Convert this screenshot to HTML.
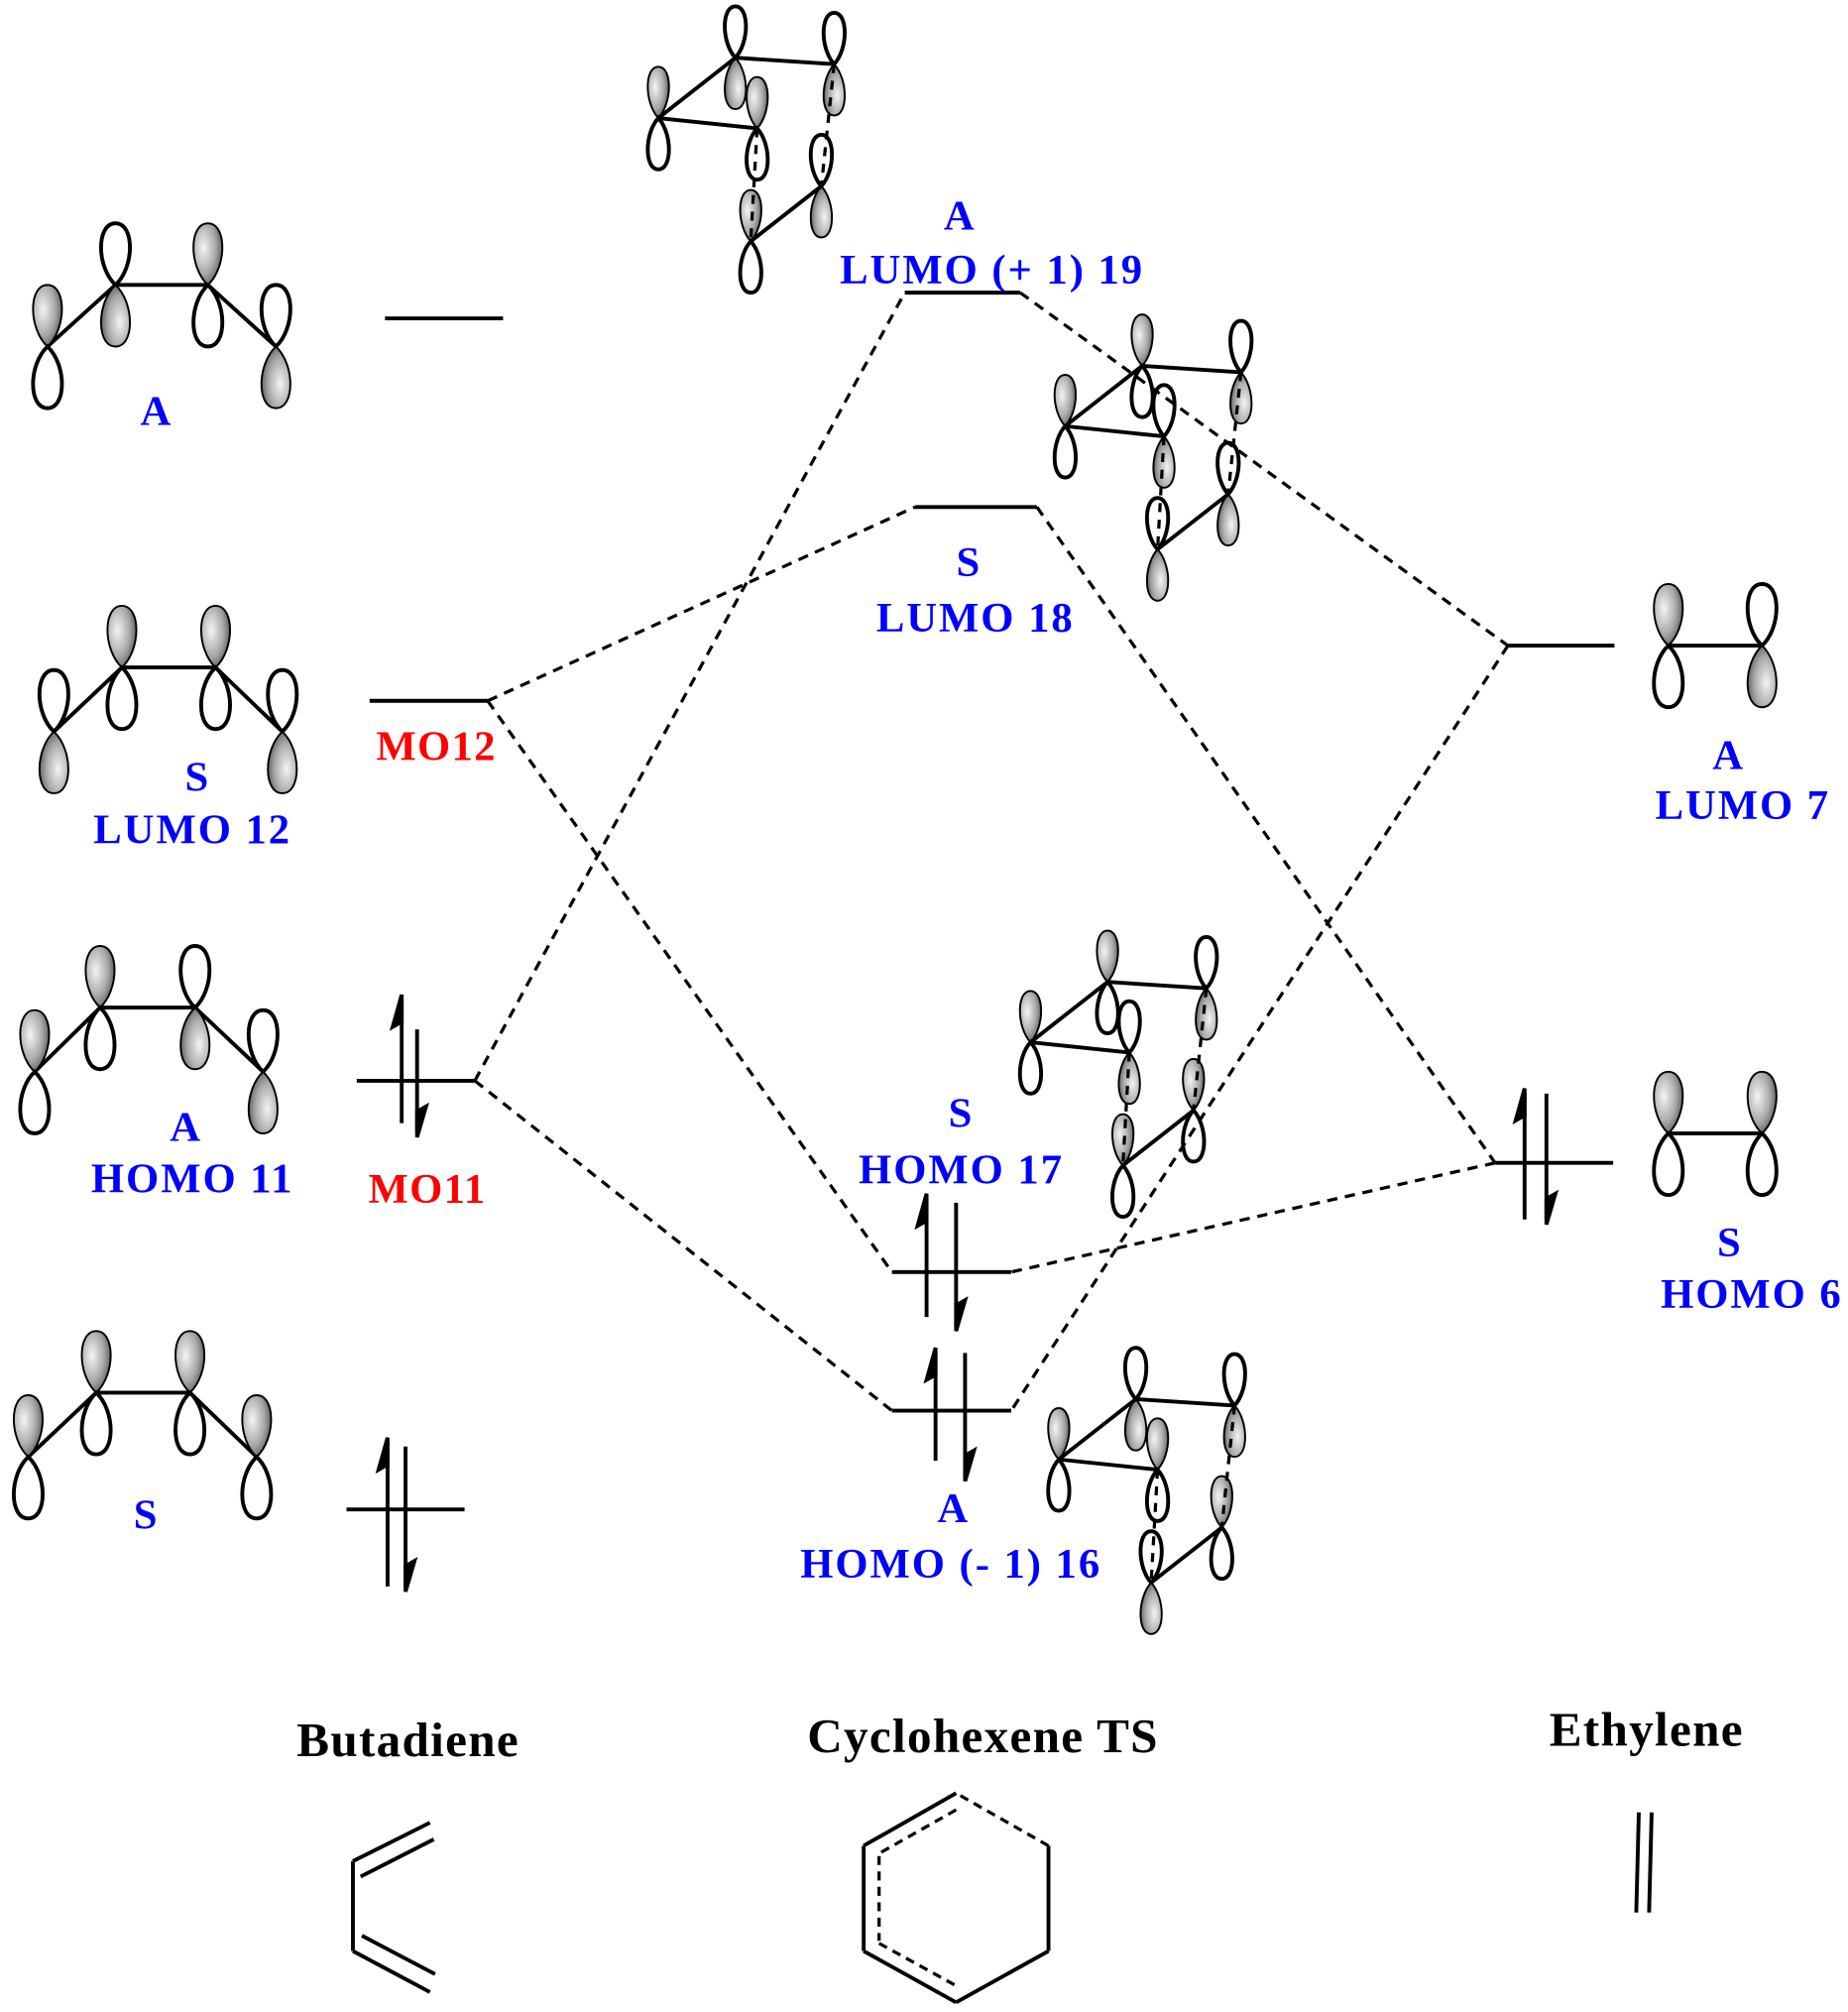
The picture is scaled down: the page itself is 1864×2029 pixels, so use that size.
<!DOCTYPE html>
<html><head><meta charset="utf-8"><style>html,body{margin:0;padding:0;background:#fff}svg{display:block}</style></head><body>
<svg width="1864" height="2029" viewBox="0 0 1440 1567.5" preserveAspectRatio="none" xmlns="http://www.w3.org/2000/svg">
<defs>
<radialGradient id="g" cx="0.35" cy="0.4" r="0.7"><stop offset="0" stop-color="#f4f4f4"/><stop offset="0.6" stop-color="#a8a8a8"/><stop offset="1" stop-color="#555"/></radialGradient>
<path id="w" d="M0,0 C-15,-14 -15,-48 0,-48 C15,-48 15,-14 0,0 Z" fill="#fff" stroke="#000" stroke-width="3"/>
<path id="s" d="M0,0 C-15,-14 -15,-48 0,-48 C15,-48 15,-14 0,0 Z" fill="url(#g)" stroke="#000" stroke-width="1.5"/>
<path id="ws" d="M0,0 C-11,-12 -11,-40 0,-40 C11,-40 11,-12 0,0 Z" fill="#fff" stroke="#000" stroke-width="3"/>
<path id="ss" d="M0,0 C-11,-12 -11,-40 0,-40 C11,-40 11,-12 0,0 Z" fill="url(#g)" stroke="#000" stroke-width="1.5"/>
</defs>
<g stroke="#000" stroke-width="3" fill="none">
<line x1="37" y1="270" x2="90" y2="222"/><line x1="90" y1="222" x2="162" y2="222"/><line x1="162" y1="222" x2="215" y2="270"/>
</g>
<use href="#s" x="37" y="270"/><use href="#w" transform="translate(37,270) rotate(180)"/>
<use href="#w" x="90" y="222"/><use href="#s" transform="translate(90,222) rotate(180)"/>
<use href="#s" x="162" y="222"/><use href="#w" transform="translate(162,222) rotate(180)"/>
<use href="#w" x="215" y="270"/><use href="#s" transform="translate(215,270) rotate(180)"/>
<g stroke="#000" stroke-width="3"><line x1="42" y1="570" x2="95" y2="520"/><line x1="95" y1="520" x2="168" y2="520"/><line x1="168" y1="520" x2="220" y2="570"/></g>
<use href="#w" x="42" y="570"/><use href="#s" transform="translate(42,570) rotate(180)"/>
<use href="#s" x="95" y="520"/><use href="#w" transform="translate(95,520) rotate(180)"/>
<use href="#s" x="168" y="520"/><use href="#w" transform="translate(168,520) rotate(180)"/>
<use href="#w" x="220" y="570"/><use href="#s" transform="translate(220,570) rotate(180)"/>
<g stroke="#000" stroke-width="3"><line x1="27" y1="835" x2="78" y2="785"/><line x1="78" y1="785" x2="152" y2="785"/><line x1="152" y1="785" x2="205" y2="835"/></g>
<use href="#s" x="27" y="835"/><use href="#w" transform="translate(27,835) rotate(180)"/>
<use href="#s" x="78" y="785"/><use href="#w" transform="translate(78,785) rotate(180)"/>
<use href="#w" x="152" y="785"/><use href="#s" transform="translate(152,785) rotate(180)"/>
<use href="#w" x="205" y="835"/><use href="#s" transform="translate(205,835) rotate(180)"/>
<g stroke="#000" stroke-width="3"><line x1="22" y1="1135" x2="75" y2="1085"/><line x1="75" y1="1085" x2="148" y2="1085"/><line x1="148" y1="1085" x2="200" y2="1135"/></g>
<use href="#s" x="22" y="1135"/><use href="#w" transform="translate(22,1135) rotate(180)"/>
<use href="#s" x="75" y="1085"/><use href="#w" transform="translate(75,1085) rotate(180)"/>
<use href="#s" x="148" y="1085"/><use href="#w" transform="translate(148,1085) rotate(180)"/>
<use href="#s" x="200" y="1135"/><use href="#w" transform="translate(200,1135) rotate(180)"/>
<line x1="1300" y1="503" x2="1373" y2="503" stroke="#000" stroke-width="3"/>
<use href="#s" x="1300" y="503"/><use href="#w" transform="translate(1300,503) rotate(180)"/>
<use href="#w" x="1373" y="503"/><use href="#s" transform="translate(1373,503) rotate(180)"/>
<line x1="1300" y1="883" x2="1373" y2="883" stroke="#000" stroke-width="3"/>
<use href="#s" x="1300" y="883"/><use href="#w" transform="translate(1300,883) rotate(180)"/>
<use href="#s" x="1373" y="883"/><use href="#w" transform="translate(1373,883) rotate(180)"/>

<g>
<use href="#ws" x="573" y="45"/><use href="#ss" transform="translate(573,45) rotate(180)"/>
<use href="#ws" x="650" y="50"/><use href="#ss" transform="translate(650,50) rotate(180)"/>
<use href="#ss" x="513" y="92"/><use href="#ws" transform="translate(513,92) rotate(180)"/>
<use href="#ss" x="590" y="100"/><use href="#ws" transform="translate(590,100) rotate(180)"/>
<use href="#ws" x="640" y="145"/><use href="#ss" transform="translate(640,145) rotate(180)"/>
<use href="#ss" x="585" y="188"/><use href="#ws" transform="translate(585,188) rotate(180)"/>
<g stroke="#000" stroke-width="3"><line x1="573" y1="45" x2="650" y2="50"/><line x1="573" y1="45" x2="513" y2="92"/><line x1="513" y1="92" x2="590" y2="100"/><line x1="640" y1="145" x2="585" y2="188"/></g>
<g stroke="#000" stroke-width="2.5" stroke-dasharray="7,6"><line x1="590" y1="100" x2="585" y2="188"/><line x1="650" y1="50" x2="640" y2="145"/></g>
</g>
<g transform="translate(317,240)">
<use href="#ss" x="573" y="45"/><use href="#ws" transform="translate(573,45) rotate(180)"/>
<use href="#ws" x="650" y="50"/><use href="#ss" transform="translate(650,50) rotate(180)"/>
<use href="#ss" x="513" y="92"/><use href="#ws" transform="translate(513,92) rotate(180)"/>
<use href="#ws" x="590" y="100"/><use href="#ss" transform="translate(590,100) rotate(180)"/>
<use href="#ws" x="640" y="145"/><use href="#ss" transform="translate(640,145) rotate(180)"/>
<use href="#ws" x="585" y="188"/><use href="#ss" transform="translate(585,188) rotate(180)"/>
<g stroke="#000" stroke-width="3"><line x1="573" y1="45" x2="650" y2="50"/><line x1="573" y1="45" x2="513" y2="92"/><line x1="513" y1="92" x2="590" y2="100"/><line x1="640" y1="145" x2="585" y2="188"/></g>
<g stroke="#000" stroke-width="2.5" stroke-dasharray="7,6"><line x1="590" y1="100" x2="585" y2="188"/><line x1="650" y1="50" x2="640" y2="145"/></g>
</g>
<g transform="translate(290,720)">
<use href="#ss" x="573" y="45"/><use href="#ws" transform="translate(573,45) rotate(180)"/>
<use href="#ws" x="650" y="50"/><use href="#ss" transform="translate(650,50) rotate(180)"/>
<use href="#ss" x="513" y="92"/><use href="#ws" transform="translate(513,92) rotate(180)"/>
<use href="#ws" x="590" y="100"/><use href="#ss" transform="translate(590,100) rotate(180)"/>
<use href="#ss" x="640" y="145"/><use href="#ws" transform="translate(640,145) rotate(180)"/>
<use href="#ss" x="585" y="188"/><use href="#ws" transform="translate(585,188) rotate(180)"/>
<g stroke="#000" stroke-width="3"><line x1="573" y1="45" x2="650" y2="50"/><line x1="573" y1="45" x2="513" y2="92"/><line x1="513" y1="92" x2="590" y2="100"/><line x1="640" y1="145" x2="585" y2="188"/></g>
<g stroke="#000" stroke-width="2.5" stroke-dasharray="7,6"><line x1="590" y1="100" x2="585" y2="188"/><line x1="650" y1="50" x2="640" y2="145"/></g>
</g>
<g transform="translate(312,1045)">
<use href="#ws" x="573" y="45"/><use href="#ss" transform="translate(573,45) rotate(180)"/>
<use href="#ws" x="650" y="50"/><use href="#ss" transform="translate(650,50) rotate(180)"/>
<use href="#ss" x="513" y="92"/><use href="#ws" transform="translate(513,92) rotate(180)"/>
<use href="#ss" x="590" y="100"/><use href="#ws" transform="translate(590,100) rotate(180)"/>
<use href="#ss" x="640" y="145"/><use href="#ws" transform="translate(640,145) rotate(180)"/>
<use href="#ws" x="585" y="188"/><use href="#ss" transform="translate(585,188) rotate(180)"/>
<g stroke="#000" stroke-width="3"><line x1="573" y1="45" x2="650" y2="50"/><line x1="573" y1="45" x2="513" y2="92"/><line x1="513" y1="92" x2="590" y2="100"/><line x1="640" y1="145" x2="585" y2="188"/></g>
<g stroke="#000" stroke-width="2.5" stroke-dasharray="7,6"><line x1="590" y1="100" x2="585" y2="188"/><line x1="650" y1="50" x2="640" y2="145"/></g>
</g>

<g stroke="#000" stroke-width="3">
<line x1="300" y1="248" x2="392" y2="248"/>
<line x1="705" y1="228" x2="795" y2="228"/>
<line x1="713" y1="395" x2="808" y2="395"/>
<line x1="288" y1="546" x2="380" y2="546"/>
<line x1="1175" y1="503" x2="1258" y2="503"/>
<line x1="278" y1="842" x2="370" y2="842"/>
<line x1="695" y1="991" x2="788" y2="991"/>
<line x1="1165" y1="906" x2="1257" y2="906"/>
<line x1="695" y1="1099" x2="788" y2="1099"/>
<line x1="270" y1="1176" x2="362" y2="1176"/>
</g>
<g stroke="#000" stroke-width="2.5" stroke-dasharray="8,6">
<line x1="380" y1="546" x2="713" y2="395"/>
<line x1="380" y1="546" x2="695" y2="991"/>
<line x1="370" y1="842" x2="705" y2="228"/>
<line x1="370" y1="842" x2="695" y2="1099"/>
<line x1="795" y1="228" x2="1175" y2="503"/>
<line x1="808" y1="395" x2="1165" y2="906"/>
<line x1="1175" y1="503" x2="788" y2="1099"/>
<line x1="1165" y1="906" x2="788" y2="991"/>
</g>
<g stroke="#000" stroke-width="3" fill="#000">
<line x1="313" y1="875" x2="313" y2="778"/><path d="M313,775 L306,800 L313,796 Z"/>
<line x1="325" y1="802" x2="325" y2="882"/><path d="M325,886 L332,862 L325,866 Z"/>
<line x1="722" y1="1026" x2="722" y2="933"/><path d="M722,930 L715,955 L722,951 Z"/>
<line x1="745" y1="937" x2="745" y2="1033"/><path d="M745,1037 L752,1013 L745,1017 Z"/>
<line x1="729" y1="1138" x2="729" y2="1053"/><path d="M729,1050 L722,1075 L729,1071 Z"/>
<line x1="752" y1="1054" x2="752" y2="1150"/><path d="M752,1154 L759,1130 L752,1134 Z"/>
<line x1="1188" y1="950" x2="1188" y2="851"/><path d="M1188,848 L1181,873 L1188,869 Z"/>
<line x1="1205" y1="852" x2="1205" y2="950"/><path d="M1205,954 L1212,930 L1205,934 Z"/>
<line x1="302" y1="1236" x2="302" y2="1123"/><path d="M302,1120 L295,1145 L302,1141 Z"/>
<line x1="316" y1="1127" x2="316" y2="1236"/><path d="M316,1240 L323,1216 L316,1220 Z"/>
</g>
<g font-family="Liberation Serif, serif" font-weight="bold" font-size="33" letter-spacing="1.5" fill="#0000ff" text-anchor="middle">
<text x="122" y="331">A</text>
<text x="748" y="179">A</text>
<text x="773" y="221">LUMO (+ 1) 19</text>
<text x="755" y="449">S</text>
<text x="760" y="492">LUMO 18</text>
<text x="154" y="616">S</text>
<text x="150" y="657">LUMO 12</text>
<text x="1347" y="599">A</text>
<text x="1358" y="638">LUMO 7</text>
<text x="145" y="889">A</text>
<text x="150" y="929">HOMO 11</text>
<text x="749" y="878">S</text>
<text x="749" y="922">HOMO 17</text>
<text x="1348" y="979">S</text>
<text x="1365" y="1019">HOMO 6</text>
<text x="114" y="1191">S</text>
<text x="743" y="1186">A</text>
<text x="741" y="1229">HOMO (- 1) 16</text>
</g>
<g font-family="Liberation Serif, serif" font-weight="bold" font-size="33" letter-spacing="1" fill="#ff0000" text-anchor="middle">
<text x="340" y="592">MO12</text>
<text x="333" y="937">MO11</text>
</g>
<g font-family="Liberation Serif, serif" font-weight="bold" font-size="38" letter-spacing="1" fill="#000" text-anchor="middle">
<text x="318" y="1368">Butadiene</text>
<text x="766" y="1365">Cyclohexene TS</text>
<text x="1283" y="1360">Ethylene</text>
</g>
<g stroke="#000" stroke-width="3" fill="none">
<line x1="275" y1="1450" x2="335" y2="1420"/><line x1="281" y1="1462" x2="338" y2="1433"/>
<line x1="275" y1="1450" x2="275" y2="1520"/>
<line x1="275" y1="1520" x2="335" y2="1552"/><line x1="282" y1="1508" x2="339" y2="1538"/>
<line x1="745" y1="1397" x2="673" y2="1438"/><line x1="673" y1="1438" x2="673" y2="1520"/><line x1="673" y1="1520" x2="745" y2="1560"/>
<line x1="745" y1="1560" x2="817" y2="1520"/><line x1="817" y1="1520" x2="817" y2="1438"/>
<line x1="1277" y1="1412" x2="1275" y2="1490"/><line x1="1287" y1="1412" x2="1285" y2="1490"/>
</g>
<g stroke="#000" stroke-width="2.5" stroke-dasharray="7,5" fill="none">
<line x1="817" y1="1438" x2="745" y2="1397"/>
<line x1="745" y1="1410" x2="685" y2="1444"/><line x1="685" y1="1446" x2="685" y2="1512"/><line x1="685" y1="1514" x2="745" y2="1547"/>
</g>
</svg>
</body></html>
